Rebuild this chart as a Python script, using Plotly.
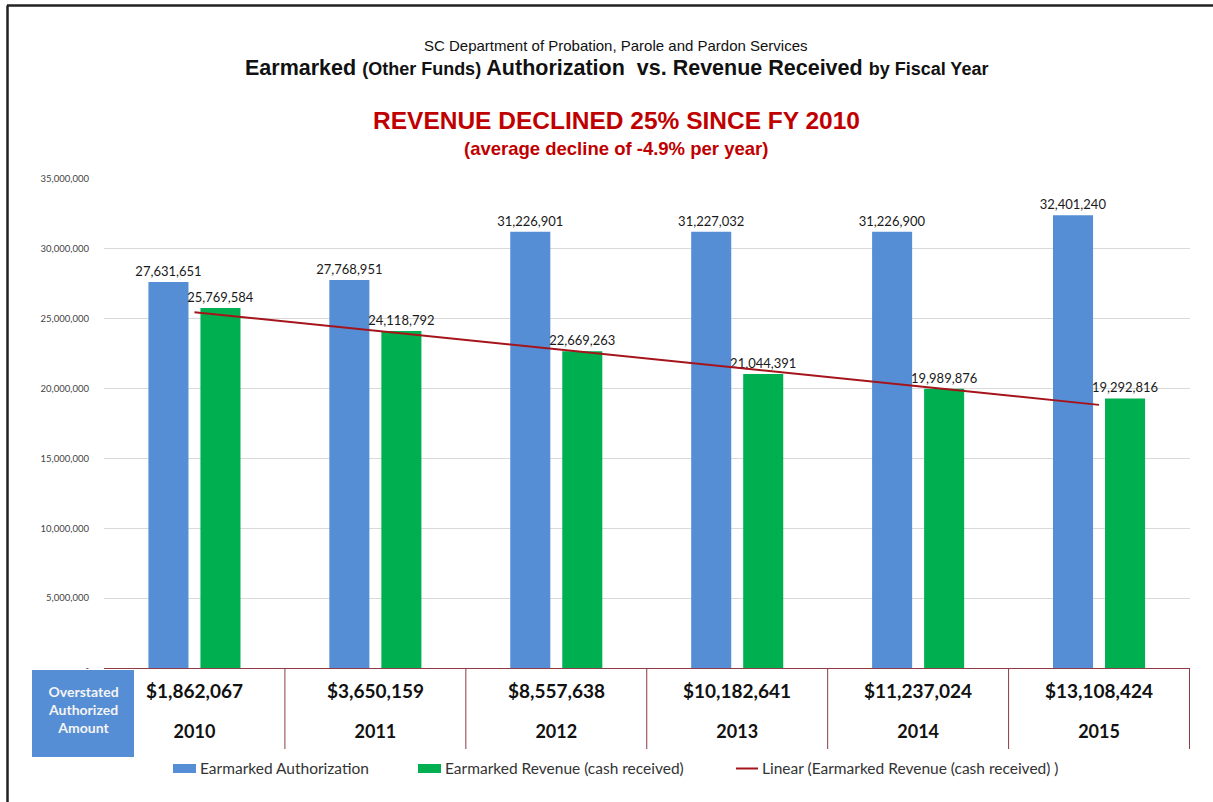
import numpy as np
import plotly.graph_objects as go

# ---------------- data ----------------
years = ["2010", "2011", "2012", "2013", "2014", "2015"]
authorization = [27631651, 27768951, 31226901, 31227032, 31226900, 32401240]
revenue = [25769584, 24118792, 22669263, 21044391, 19989876, 19292816]
overstated = [1862067, 3650159, 8557638, 10182641, 11237024, 13108424]
y_ticks = [0, 5000000, 10000000, 15000000, 20000000, 25000000, 30000000, 35000000]
y_tick_text = ["-", "5,000,000", "10,000,000", "15,000,000", "20,000,000",
               "25,000,000", "30,000,000", "35,000,000"]

# linear trendline of revenue (as Excel computes it)
idx = np.arange(len(revenue))
slope, intercept = np.polyfit(idx, revenue, 1)
trend = (slope * idx + intercept).tolist()

BLUE = "#558ED5"
GREEN = "#00B050"
RED_LINE = "#A5141B"
MAROON = "#8E3B46"
CAL = "Lato, 'Open Sans', sans-serif"
NARROW = "'Liberation Sans Narrow', 'Arial Narrow', 'Liberation Sans', Arial, sans-serif"

# plot area in pixels
L, R, T, B = 104, 1190, 179, 668
W, H = 1213, 802


def px_x(p):
    return (p - L) / (R - L)


def px_y(p):
    return (B - p) / (B - T)


fig = go.Figure()
fig.add_trace(go.Bar(
    x=years, y=authorization, name="Earmarked Authorization",
    marker=dict(color=BLUE, line=dict(width=0)),
    texttemplate="%{y:,.0f}", textposition="outside", constraintext="none",
    textfont=dict(family=CAL, size=13, color="#1a1a1a"), cliponaxis=False,
    showlegend=False,
))
fig.add_trace(go.Bar(
    x=years, y=revenue, name="Earmarked Revenue (cash received)",
    marker=dict(color=GREEN, line=dict(width=0)),
    texttemplate="%{y:,.0f}", textposition="outside", constraintext="none",
    textfont=dict(family=CAL, size=13, color="#1a1a1a"), cliponaxis=False,
    showlegend=False,
))
fig.add_trace(go.Scatter(
    x=years, y=trend, mode="lines",
    name="Linear (Earmarked Revenue (cash received) )",
    line=dict(color=RED_LINE, width=2), showlegend=False,
))

shapes = []
annotations = []

# frame
shapes.append(dict(type="line", xref="paper", yref="paper",
                   x0=px_x(7), x1=px_x(W + 5), y0=px_y(5.5), y1=px_y(5.5),
                   line=dict(color="#222", width=2.5)))
shapes.append(dict(type="line", xref="paper", yref="paper",
                   x0=px_x(7.5), x1=px_x(7.5), y0=px_y(5.5), y1=px_y(H + 5),
                   line=dict(color="#222", width=2.5)))

# table below axis
for i in range(len(years)):
    shapes.append(dict(type="line", xref="x", yref="paper",
                       x0=i + 0.5, x1=i + 0.5, y0=0, y1=px_y(749),
                       line=dict(color=MAROON, width=1)))
    annotations.append(dict(xref="x", yref="paper", x=i, y=px_y(690),
                            text="<b>$" + format(overstated[i], ",") + "</b>",
                            showarrow=False, yanchor="middle",
                            font=dict(family=CAL, size=19, color="#111")))

# blue label box
shapes.append(dict(type="rect", xref="paper", yref="paper",
                   x0=px_x(32), x1=px_x(134), y0=px_y(670), y1=px_y(757),
                   fillcolor=BLUE, line=dict(width=0), layer="above"))
annotations.append(dict(xref="paper", yref="paper", x=px_x(83), y=px_y(709),
                        text="<b>Overstated<br>Authorized<br>Amount</b>",
                        showarrow=False, yanchor="middle", xanchor="center",
                        font=dict(family=CAL, size=14, color="#F4F4F4")))

# legend (manual)
leg_y = 768
shapes.append(dict(type="rect", xref="paper", yref="paper",
                   x0=px_x(173), x1=px_x(196), y0=px_y(764), y1=px_y(773),
                   fillcolor=BLUE, line=dict(width=0)))
shapes.append(dict(type="rect", xref="paper", yref="paper",
                   x0=px_x(418), x1=px_x(441), y0=px_y(764), y1=px_y(773),
                   fillcolor=GREEN, line=dict(width=0)))
shapes.append(dict(type="line", xref="paper", yref="paper",
                   x0=px_x(736), x1=px_x(758), y0=px_y(768.5), y1=px_y(768.5),
                   line=dict(color=RED_LINE, width=2)))
for txt, xx in [("Earmarked Authorization", 198),
                ("Earmarked Revenue (cash received)", 443),
                ("Linear (Earmarked Revenue (cash received) )", 760)]:
    annotations.append(dict(xref="paper", yref="paper", x=px_x(xx), y=px_y(leg_y),
                            text=txt, showarrow=False, xanchor="left",
                            yanchor="middle",
                            font=dict(family=CAL, size=15.5, color="#333")))

# titles
annotations.append(dict(xref="paper", yref="paper", x=px_x(616), y=px_y(45),
                        text="SC Department of Probation, Parole and Pardon Services",
                        showarrow=False, yanchor="middle",
                        font=dict(family=NARROW, size=15, color="#111")))
annotations.append(dict(
    xref="paper", yref="paper", x=px_x(616), y=px_y(68),
    text=("<b>Earmarked <span style='font-size:18px'>(Other Funds)</span> Authorization"
          "&nbsp;&nbsp;vs. Revenue Received <span style='font-size:18px'>by Fiscal Year</span></b>"),
    showarrow=False, yanchor="middle",
    font=dict(family=NARROW, size=21.5, color="#111")))
annotations.append(dict(xref="paper", yref="paper", x=px_x(616), y=px_y(121),
                        text="<b>REVENUE DECLINED 25% SINCE FY 2010</b>",
                        showarrow=False, yanchor="middle",
                        font=dict(family=NARROW, size=24.5, color="#C00000")))
annotations.append(dict(xref="paper", yref="paper", x=px_x(616), y=px_y(149),
                        text="<b>(average decline of -4.9% per year)</b>",
                        showarrow=False, yanchor="middle",
                        font=dict(family=NARROW, size=18.5, color="#C00000")))

fig.update_layout(
    width=W, height=H,
    margin=dict(l=L, r=W - R, t=T, b=H - B, autoexpand=False),
    paper_bgcolor="white", plot_bgcolor="white",
    barmode="group", bargap=0.425, bargroupgap=0.23,
    shapes=shapes, annotations=annotations,
    showlegend=False,
)
fig.update_xaxes(
    type="category", showgrid=False, showline=True, linecolor=MAROON, linewidth=1,
    ticks="", tickvals=years, ticktext=["<b>" + y + "</b>" for y in years],
    tickfont=dict(family=CAL, size=18, color="#111"), ticklabelstandoff=47,
)
fig.update_yaxes(
    range=[0, 35000000], tickvals=y_ticks, ticktext=y_tick_text,
    showgrid=True, gridcolor="#D9D9D9", gridwidth=1, zeroline=False,
    tickfont=dict(family=CAL, size=9.5, color="#444"), ticks="",
    ticklabelstandoff=14,
)

fig.write_html("out.html", config={"displayModeBar": False},
               post_script="document.body.style.margin='0';")
